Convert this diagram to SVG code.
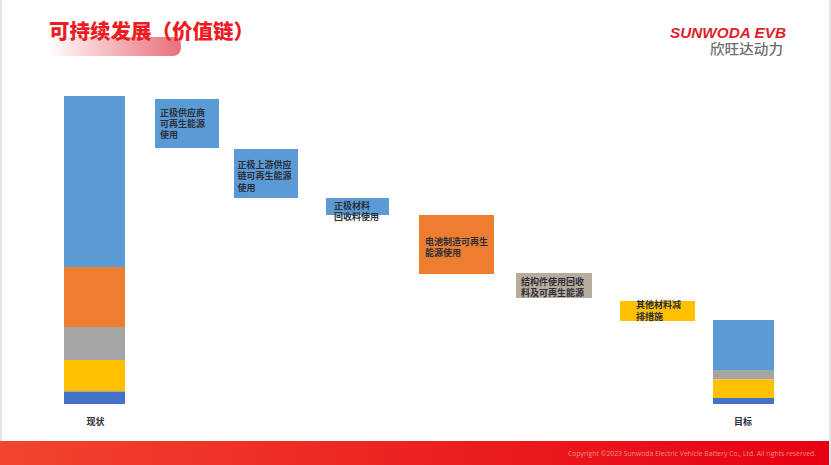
<svg xmlns="http://www.w3.org/2000/svg" width="831" height="465" viewBox="0 0 831 465">
<style>
text{font-family:"Noto Sans CJK SC","Liberation Sans",sans-serif}
.l{font-size:9px;font-weight:700;fill:#2b2f3a}
.c{text-anchor:middle}
</style>
<defs>
<linearGradient id="pill" x1="0" x2="1" y1="0" y2="0"><stop offset="0" stop-color="#e8616c" stop-opacity="0"/><stop offset="1" stop-color="#e8707a"/></linearGradient>
<linearGradient id="foot" x1="0" x2="1" y1="0" y2="0"><stop offset="0" stop-color="#f2452f"/><stop offset="1" stop-color="#e60012"/></linearGradient>
</defs>
<rect width="831" height="465" fill="#fff"/>
<rect x="0" width="2" height="465" fill="#e4e4e4"/>
<rect x="829" width="2" height="465" fill="#e4e4e4"/>
<g id="header">
<path d="M49 37H173a8 8 0 0 1 8 8v3a8 8 0 0 1-8 8H49Z" fill="url(#pill)"/>
<text x="49" y="39" font-size="20.500" font-weight="900" fill="#ec1c24">可持续发展（价值链）</text>
</g>
<g id="logo">
<text x="670" y="38" font-size="14" font-weight="700" font-style="italic" fill="#e01f2d" textLength="116" lengthAdjust="spacingAndGlyphs" style="font-family:'Liberation Sans',sans-serif">SUNWODA EVB</text>
<text x="710" y="54" font-size="13.500" font-weight="500" fill="#6d6d6d" textLength="73" lengthAdjust="spacingAndGlyphs">欣旺达动力</text>
</g>
<g id="bar-current">
<rect x="64" y="96" width="61" height="171" fill="#5b9bd5"/>
<rect x="64" y="267" width="61" height="60" fill="#ed7d31"/>
<rect x="64" y="327" width="61" height="33" fill="#a5a5a5"/>
<rect x="64" y="360" width="61" height="31.500" fill="#ffc000"/>
<rect x="64" y="391.500" width="61" height="12.500" fill="#4472c4"/>
<text class="l c" x="95.500" y="425">现状</text>
</g>
<g id="step-1">
<rect x="155" y="99" width="64" height="49" fill="#5b9bd5"/>
<text class="l" x="160" y="115.500">正极供应商</text>
<text class="l" x="160" y="126.500">可再生能源</text>
<text class="l" x="160" y="137.500">使用</text>
</g>
<g id="step-2">
<rect x="234" y="149" width="64" height="49" fill="#5b9bd5"/>
<text class="l" x="237.500" y="168">正极上游供应</text>
<text class="l" x="237.500" y="179">链可再生能源</text>
<text class="l" x="237.500" y="190.500">使用</text>
</g>
<g id="step-3">
<rect x="326" y="198" width="63" height="17" fill="#5b9bd5"/>
<text class="l" x="334" y="209">正极材料</text>
<text class="l" x="334" y="219.500">回收料使用</text>
</g>
<g id="step-4">
<rect x="419" y="215" width="75" height="59" fill="#ed7d31"/>
<text class="l" x="425" y="244.500">电池制造可再生</text>
<text class="l" x="425" y="255.500">能源使用</text>
</g>
<g id="step-5">
<rect x="516" y="273" width="76" height="25" fill="#b8ac9c"/>
<text class="l" x="521" y="284.500">结构件使用回收</text>
<text class="l" x="521" y="296">料及可再生能源</text>
</g>
<g id="step-6">
<rect x="620" y="301" width="75" height="20" fill="#ffc000"/>
<text class="l" x="636" y="308">其他材料减</text>
<text class="l" x="636" y="319.500">排措施</text>
</g>
<g id="bar-target">
<rect x="713" y="320" width="61" height="50" fill="#5b9bd5"/>
<rect x="713" y="370" width="61" height="9.500" fill="#a5a5a5"/>
<rect x="713" y="379.500" width="61" height="18.500" fill="#ffc000"/>
<rect x="713" y="398" width="61" height="6" fill="#4472c4"/>
<text class="l c" x="743" y="425">目标</text>
</g>
<g id="footer">
<rect x="0" y="441" width="829" height="24" fill="url(#foot)"/>
<text x="568" y="456" font-size="7" fill="#f08a8a" style="font-family:'Open Sans',sans-serif" textLength="248" lengthAdjust="spacingAndGlyphs">Copyright ©2023 Sunwoda Electric Vehicle Battery Co., Ltd. All rights reserved.</text>
</g>
<g id="connectors"/>
</svg>
